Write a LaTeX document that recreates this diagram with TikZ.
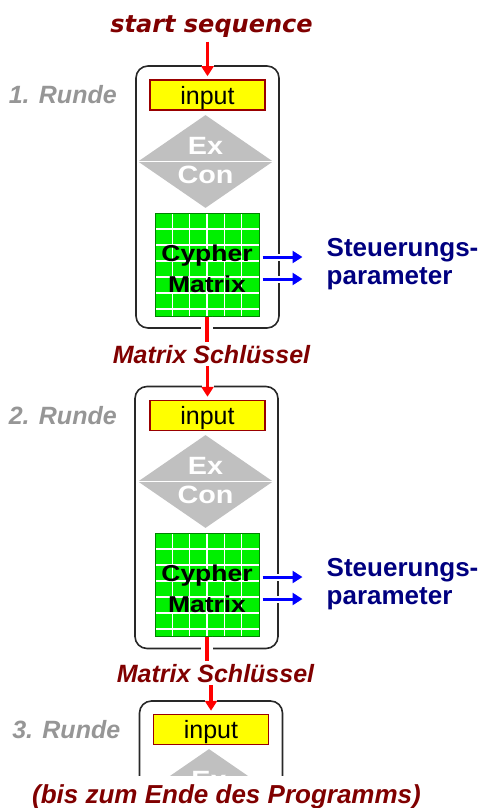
\documentclass[tikz,border=0pt]{standalone}
\usepackage{xcolor}
\usepackage{fontspec}
\setmainfont{Liberation Sans}
\newfontfamily\widefont{Liberation Sans}[FakeStretch=1.15]
\newfontfamily\seqfont{DejaVu Sans}[BoldItalicFont={DejaVu Sans Bold Oblique}]
\usepackage{tikz}
\usetikzlibrary{arrows.meta,shapes,positioning}

\definecolor{keyred}{RGB}{128,0,0}
\definecolor{wirered}{RGB}{255,0,0}
\definecolor{rundgray}{RGB}{150,150,150}
\definecolor{paramblue}{RGB}{0,0,128}
\definecolor{wireblue}{RGB}{0,0,255}
\definecolor{inyellow}{RGB}{255,255,0}
\definecolor{inborder}{RGB}{153,0,0}
\definecolor{matrixgreen}{RGB}{0,240,0}
\definecolor{matrixborder}{RGB}{0,130,0}
\definecolor{exgray}{RGB}{192,192,192}
\definecolor{boxline}{RGB}{40,40,40}

\tikzset{
  every picture/.style = {
    x = 1pt,
    y = -1pt,
    >={Triangle[length=10pt,width=12pt]},
  }
  ,
  cross line/.style = {
    preaction = {
      draw=white,
      -,
      line width=#1
    }
  }
  ,
  cross line/.default = 12pt
  , % one round of the sequence
  rundbox/.style = {
    rectangle,
    rounded corners = 12pt,
    draw = boxline,
    line width = 1.6pt,
    inner sep = 0pt,
    minimum width = 143pt,
    minimum height = 262pt
  }
  ,
  inbox/.style = {
    rectangle,
    draw = inborder,
    fill = inyellow,
    line width = 1.5pt,
    inner sep = 0pt,
    minimum width = 115pt,
    minimum height = 30pt,
    text depth = 0pt,
    font = \fontsize{25}{28}\selectfont
  }
  , % labels of rounds
  runde/.style = {
    text = rundgray,
    label distance = 29pt,
    font = \fontsize{25}{28}\selectfont\bfseries\itshape
  }
  ,
  exdiamond/.style = {
    diamond,
    fill = exgray,
    inner sep = 0pt,
    minimum width = 135pt,
    minimum height = 93pt
  }
  ,
  midline/.style = {
    draw = white,
    line width = 1.5pt
  }
  ,
  excon/.style = {
    text = white,
    inner sep = 0pt,
    font = \fontsize{25}{28}\selectfont\widefont\bfseries
  }
  ,
  cypher/.style = {
    rectangle,
    draw = matrixborder,
    fill = matrixgreen,
    line width = 1pt,
    inner sep = 0pt,
    minimum width = 104pt,
    minimum height = 103pt,
    path picture = {
      \foreach \k in {1,...,5}
        \draw[white, line width=1.5pt]
          ([xshift=\k*17.33pt]path picture bounding box.north west) --
          ([xshift=\k*17.33pt]path picture bounding box.south west);
      \foreach \k in {1,...,6}
        \draw[white, line width=1.5pt]
          ([yshift=-\k*16pt]path picture bounding box.north west) --
          ([yshift=-\k*16pt]path picture bounding box.north east);
    }
  }
  ,
  cyphertext/.style = {
    align = center,
    inner sep = 0pt,
    font = \fontsize{23}{31}\selectfont\widefont\bfseries
  }
  ,
  param/.style = {
    align = left,
    inner sep = 0pt,
    text = paramblue,
    font = \fontsize{26}{28}\selectfont\bfseries
  }
  , % labels of the key edges
  keytext/.style = {
    text = keyred,
    inner sep = 3pt,
    font = \fontsize{25}{28}\selectfont\bfseries\itshape
  }
  ,
  keyline/.style = {
    draw = wirered,
    line width = 3.5pt,
    cross line
  }
  ,
  keyarrow/.style = {
    keyline,
    ->,
    shorten > = 3pt
  }
  ,
  ctrlarrow/.style = {
    ->,
    draw = wireblue,
    line width = 3pt,
    cross line = 7pt,
    shorten < = 3pt,
    shorten > = 24pt
  }
}

\begin{document}
\begin{tikzpicture}
  \useasboundingbox (0,0) rectangle (479,808);
  \node[text=keyred, font=\fontsize{24}{28}\selectfont\seqfont\bfseries\itshape, anchor=base] (seq) at (211.5,33) {start sequence};

  % 1. Runde
  \node[rundbox] (r1) at (207.5,197) {};
  \node[inbox, label={[runde]left:1. Runde}] (in1) at (207.5,95) {input};
  \node[exdiamond] (d1) at (205.5,161.5) {};
  \draw[midline] (d1.west) -- (d1.east);
  \node[excon, yshift=16pt] (ex1) at (d1) {Ex};
  \node[excon, yshift=-13.5pt] (con1) at (d1) {Con};
  \node[cypher] (m1) at (207,264.5) {};
  \node[cyphertext, yshift=-4.5pt] (mt1) at (m1) {Cypher\\Matrix};
  \node[param, right=67pt of m1] (par1) {Steuerungs-\\parameter};
  \node[keytext, anchor=base] (key1) at (211.5,363) {Matrix Schlüssel};

  % 2. Runde
  \node[rundbox] (r2) at (206.5,517.5) {};
  \node[inbox, label={[runde]left:2. Runde}] (in2) at (207.5,415.5) {input};
  \node[exdiamond] (d2) at (205.5,481.5) {};
  \draw[midline] (d2.west) -- (d2.east);
  \node[excon, yshift=16pt] (ex2) at (d2) {Ex};
  \node[excon, yshift=-13.5pt] (con2) at (d2) {Con};
  \node[cypher] (m2) at (207,584.5) {};
  \node[cyphertext, yshift=-4.5pt] (mt2) at (m2) {Cypher\\Matrix};
  \node[param, right=67pt of m2] (par2) {Steuerungs-\\parameter};
  \node[keytext, anchor=base] (key2) at (215.5,682) {Matrix Schlüssel};

  % 3. Runde, cut off below
  \begin{scope}
    \clip (0,690) rectangle (479,775);
    \node[rundbox] (r3) at (211,832) {};
    \node[inbox, label={[runde]left:3. Runde}] (in3) at (211,729.5) {input};
    \node[exdiamond] (d3) at (209,795.5) {};
    \node[excon, yshift=16pt] (ex3) at (d3) {Ex};
  \end{scope}
  \node[text=keyred, font=\fontsize{26}{28}\selectfont\bfseries\itshape, anchor=base] (ende) at (226.5,803) {(bis zum Ende des Programms)};

  % key flow
  \draw[keyarrow] (seq.south -| in1.north) -- (in1.north);
  \draw[keyline] (m1.south) -- (m1.south |- key1.north);
  \draw[keyarrow] (key1.south -| in2.north) -- (in2.north);
  \draw[keyline] (m2.south) -- (m2.south |- key2.north);
  \draw[keyarrow] (key2.south -| in3.north) -- (in3.north);

  % control parameters
  \draw[ctrlarrow] ([yshift=7.5pt]m1.east) -- ([yshift=7.5pt]m1.east -| par1.west);
  \draw[ctrlarrow] ([yshift=-14.5pt]m1.east) -- ([yshift=-14.5pt]m1.east -| par1.west);
  \draw[ctrlarrow] ([yshift=7.5pt]m2.east) -- ([yshift=7.5pt]m2.east -| par2.west);
  \draw[ctrlarrow] ([yshift=-14.5pt]m2.east) -- ([yshift=-14.5pt]m2.east -| par2.west);
\end{tikzpicture}
\end{document}
